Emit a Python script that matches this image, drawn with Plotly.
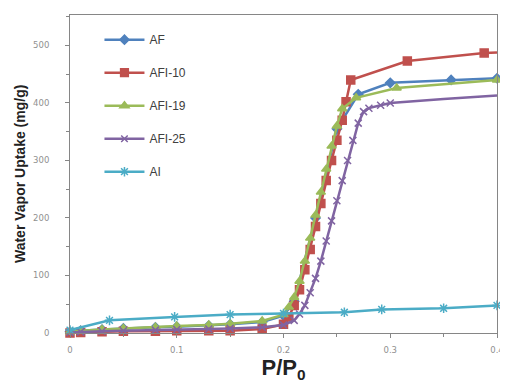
import plotly.graph_objects as go

# ---- data ----
af_x = [0, 0.01, 0.03, 0.05, 0.08, 0.1, 0.13, 0.15, 0.18, 0.2, 0.21, 0.23,
        0.25, 0.27, 0.3, 0.357, 0.4]
af_y = [2, 4, 6, 8, 10, 11, 13, 15, 19, 30, 55, 200,
        355, 415, 435, 440, 443]

afi10_x = [0, 0.01, 0.03, 0.05, 0.08, 0.1, 0.13, 0.15, 0.18, 0.2, 0.205, 0.21, 0.215, 0.22,
           0.225, 0.23, 0.235, 0.24, 0.245, 0.25, 0.255, 0.2586, 0.263, 0.316, 0.388, 0.4]
afi10_y = [0, 1, 2, 3, 3, 4, 4, 4, 7, 15, 28, 48, 75, 110,
           145, 185, 225, 265, 300, 335, 370, 402, 440, 473, 487, 488]

afi19_x = [0, 0.01, 0.03, 0.05, 0.08, 0.1, 0.13, 0.15, 0.18, 0.2, 0.205, 0.21, 0.215, 0.22,
           0.225, 0.23, 0.235, 0.24, 0.245, 0.25, 0.255, 0.268, 0.306, 0.4]
afi19_y = [2, 4, 6, 8, 10, 12, 14, 16, 21, 32, 45, 62, 90, 125,
           165, 205, 245, 285, 325, 360, 390, 409, 426, 440]

afi25_x = [0, 0.01, 0.03, 0.05, 0.08, 0.1, 0.13, 0.15, 0.18, 0.2, 0.21, 0.215, 0.22, 0.225,
           0.23, 0.235, 0.24, 0.245, 0.25, 0.255, 0.26, 0.265, 0.27, 0.275, 0.28, 0.291, 0.3, 0.35, 0.4]
afi25_y = [1, 2, 3, 4, 5, 6, 7, 8, 10, 14, 22, 33, 48, 70,
           95, 125, 160, 195, 230, 265, 300, 335, 365, 385, 391, 396, 400, 407, 413]

ai_x = [0, 0.037, 0.098, 0.15, 0.2, 0.257, 0.292, 0.35, 0.4]
ai_y = [5, 22, 28, 32, 34, 36, 41, 43, 48]

series = [
    ("AF", af_x, af_y, "#4F81BD", "diamond", 7),
    ("AFI-10", afi10_x, afi10_y, "#C0504D", "square", 8),
    ("AFI-19", afi19_x, afi19_y, "#9BBB59", "triangle-up", 8),
    ("AFI-25", afi25_x, afi25_y, "#8064A2", "x-thin-open", 7),
    ("AI", ai_x, ai_y, "#4BACC6", "asterisk-open", 8),
]

# points whose markers are not drawn in the reference (plateau ends)
hidden_markers = {"AFI-10": {0.4}, "AFI-25": {0.35, 0.4}}

fig = go.Figure()
for name, xs, ys, color, sym, size in series:
    hide = hidden_markers.get(name, set())
    sizes = [0 if xv in hide else size for xv in xs]
    fig.add_trace(go.Scatter(
        x=xs, y=ys, name=name, mode="lines+markers", legendgroup=name,
        line=dict(color=color, width=2.5), cliponaxis=False,
        marker=dict(symbol=sym, size=sizes, color=color, opacity=1,
                    line=dict(color=color, width=1.5)),
    ))

axis_common = dict(
    showgrid=False, zeroline=False, showline=True, linecolor="#868686", linewidth=1,
    mirror=True, ticks="outside", ticklen=4, tickcolor="#868686", automargin=False,
    tickfont=dict(family="DejaVu Sans", size=8.5, color="#909090"),
)

# the page body adds an 8px offset, so the figure is sized 8px smaller
fig.update_layout(
    width=500, height=375,
    margin=dict(l=62, r=11, t=7, b=50),
    paper_bgcolor="white", plot_bgcolor="white",
    showlegend=True,
    legend=dict(x=0.069, y=0.968, xanchor="left", yanchor="top",
                bgcolor="rgba(0,0,0,0)", itemwidth=40, tracegroupgap=14,
                traceorder="grouped",
                font=dict(family="Liberation Sans, Arial", size=12, color="#404040")),
    xaxis=dict(range=[0, 0.4], dtick=0.1, tick0=0, ticklabelstandoff=5,
               minor=dict(dtick=0.05, ticks="outside", ticklen=3, tickcolor="#868686"),
               title=dict(text="<b>P/P<sub>0</sub></b>", standoff=9,
                          font=dict(family="Liberation Sans, Arial", size=22, color="#222222")),
               **axis_common),
    yaxis=dict(range=[0, 553], dtick=100, tick0=0, ticklabelstandoff=14,
               minor=dict(dtick=50, ticks="outside", ticklen=3, tickcolor="#868686"),
               **axis_common),
    annotations=[dict(
        text="<b>Water Vapor Uptake (mg/g)</b>", textangle=-90,
        xref="paper", yref="paper", x=-0.117, y=0.5, xanchor="center", yanchor="middle",
        showarrow=False,
        font=dict(family="Liberation Sans, Arial", size=14, color="#222222"),
    )],
)

fig.write_html("out.html")
